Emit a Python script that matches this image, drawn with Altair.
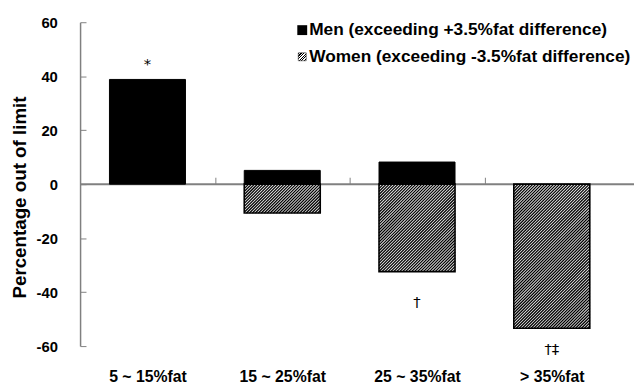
import json
import math
import altair as alt
import pandas as pd

categories = ["5 ~ 15%fat", "15 ~ 25%fat", "25 ~ 35%fat", "> 35%fat"]
men_values = [38.8, 5.1, 8.2, 0.0]
women_values = [0.0, -10.7, -32.4, -53.4]
sig_marks = ["*", "", "†", "†‡"]
sig_y = [44.5, 0.0, -43.5, -61.0]
legend_labels = ["Men (exceeding +3.5%fat difference)", "Women (exceeding -3.5%fat difference)"]
y_ticks = [-60, -40, -20, 0, 20, 40, 60]

W, H = 546, 328
Y_MIN, Y_MAX = -60, 60
X_MIN, X_MAX = -0.5, len(categories) - 0.5
HALF = 0.282                      # half bar width, in category units
FONT = "Liberation Sans, Arial, sans-serif"
AXIS_GRAY = "#808080"
HATCH_STEP = 3.0                  # px between hatch lines (horizontal)

px_x = W / (X_MAX - X_MIN)
px_y = H / (Y_MAX - Y_MIN)
idx = list(range(len(categories)))

df_men = pd.DataFrame({"i": idx, "value": men_values})
df_men = df_men[df_men["value"] != 0].copy()
df_women = pd.DataFrame({"i": idx, "value": women_values})
df_women = df_women[df_women["value"] != 0].copy()
for d in (df_men, df_women):
    d["lo"] = d["i"] - HALF
    d["hi"] = d["i"] + HALF
    d["zero"] = 0.0
df_sig = pd.DataFrame({"i": idx, "label": sig_marks, "y": sig_y})
df_sig = df_sig[df_sig["label"] != ""]


# hatch lines ("/" at 45 degrees on screen) derived from the women bars
def hatch_rows(df):
    rows = []
    for _, r in df.iterrows():
        X0, X1 = (r["lo"] - X_MIN) * px_x, (r["hi"] - X_MIN) * px_x
        ya, yb = (Y_MAX - max(r["value"], 0)) * px_y, (Y_MAX - min(r["value"], 0)) * px_y
        s = X0 + ya + HATCH_STEP / 2
        while s < X1 + yb:
            xs = max(X0, s - yb)
            xe = min(X1, s - ya)
            if xe > xs:
                rows.append({
                    "x": xs / px_x + X_MIN, "x2": xe / px_x + X_MIN,
                    "y": Y_MAX - (s - xs) / px_y, "y2": Y_MAX - (s - xe) / px_y,
                })
            s += HATCH_STEP
    return pd.DataFrame(rows)


df_hatch = hatch_rows(df_women)

xscale = alt.Scale(domain=[X_MIN, X_MAX], nice=False, zero=False)
yscale = alt.Scale(domain=[Y_MIN, Y_MAX], nice=False, zero=False)
label_expr = json.dumps(categories) + "[round(datum.value)]"


def Xq(field, axis=None):
    return alt.X(field, type="quantitative", scale=xscale, axis=axis, title=None)


def Yq(field, axis=None):
    return alt.Y(field, type="quantitative", scale=yscale, axis=axis, title=None)


zero_line = alt.Chart(pd.DataFrame({"v": [0]})).mark_rule(
    color=AXIS_GRAY, strokeWidth=2
).encode(y=Yq("v"), x=alt.value(0), x2=alt.value(W + 15))

men_bars = alt.Chart(df_men).mark_rect(fill="#000000", stroke="#000000", strokeWidth=1).encode(
    x=Xq("lo", alt.Axis(orient="bottom", values=idx, labelExpr=label_expr, domain=False,
                        ticks=False, labelFont=FONT, labelFontSize=16, labelFontWeight="bold",
                        labelColor="#000000", labelPadding=31, labelAngle=0,
                        labelBaseline="middle")),
    x2="hi", y=Yq("value"), y2="zero",
)

women_fill = alt.Chart(df_women).mark_rect(fill="#f2f2f2").encode(
    x=Xq("lo"), x2="hi", y=Yq("value"), y2="zero"
)
women_hatch = alt.Chart(df_hatch).mark_rule(color="#000000", strokeWidth=1.3).encode(
    x=Xq("x"), x2="x2", y=Yq("y"), y2="y2"
)
women_outline = alt.Chart(df_women).mark_rect(
    fillOpacity=0, stroke="#000000", strokeWidth=1.6
).encode(x=Xq("lo"), x2="hi", y=Yq("value"), y2="zero")

sig = alt.Chart(df_sig).mark_text(font="DejaVu Sans", fontSize=15, color="#000000",
                                  baseline="middle").encode(
    x=Xq("i"), y=Yq("y"), text="label:N"
)

df_ax = pd.DataFrame({"i": idx, "v": [0] * len(idx)})
zero_ticks = alt.Chart(df_ax).mark_point(opacity=0).encode(
    x=Xq("i", alt.Axis(orient="top", offset=-H / 2, values=[k + 0.5 for k in idx[:-1]],
                       labels=False, domain=False, ticks=True, tickSize=7,
                       tickColor=AXIS_GRAY, tickWidth=1)),
    y=Yq("v"),
)

y_inner_ticks = alt.Chart(df_ax).mark_point(opacity=0).encode(
    x=Xq("i"),
    y=Yq("v", alt.Axis(orient="right", offset=-W, values=y_ticks, labels=False, domain=False,
                       ticks=True, tickSize=6, tickColor=AXIS_GRAY, tickWidth=1)),
)

y_labels = alt.Chart(df_ax).mark_point(opacity=0).encode(
    x=Xq("i"),
    y=alt.Y("v:Q", scale=yscale, title="Percentage out of limit",
            axis=alt.Axis(orient="left", values=y_ticks, ticks=False, tickSize=0, domain=True,
                          domainColor=AXIS_GRAY, domainWidth=1.5, labelPadding=23,
                          labelExpr="'' + datum.value",
                          labelFont=FONT, labelFontSize=15, labelFontWeight="bold",
                          labelColor="#000000", titleFont=FONT, titleFontSize=19,
                          titleFontWeight="bold", titleColor="#000000", titlePadding=7,
                          titleY=177)),
)


def small_hatch(n=8, period=3.0 / math.sqrt(2)):
    k_max = math.ceil((2 * n / math.sqrt(2)) / period)
    stops = []
    for k in range(k_max):
        a, b, e = k / k_max, (k + 0.5) / k_max, (k + 1) / k_max
        stops += [{"offset": a, "color": "#ffffff"}, {"offset": a, "color": "#000000"},
                  {"offset": b, "color": "#000000"}, {"offset": b, "color": "#ffffff"},
                  {"offset": e, "color": "#ffffff"}]
    return {"gradient": "linear", "x1": 0, "y1": 0, "x2": 1, "y2": 1, "stops": stops}


df_leg = pd.DataFrame({"label": legend_labels})
leg_men_text = alt.Chart(df_leg.iloc[[0]]).mark_text(
    font=FONT, fontSize=17.5, fontWeight="bold", align="left", baseline="middle", color="#000000"
).encode(x=alt.value(232), y=alt.value(8), text="label:N")
leg_women_text = alt.Chart(df_leg.iloc[[1]]).mark_text(
    font=FONT, fontSize=17.5, fontWeight="bold", align="left", baseline="middle", color="#000000"
).encode(x=alt.value(232), y=alt.value(35), text="label:N")
leg_men = alt.Chart(df_leg.iloc[[0]]).mark_rect(fill="#000000").encode(
    x=alt.value(220), x2=alt.value(230), y=alt.value(3), y2=alt.value(13)
)
leg_women = alt.Chart(df_leg.iloc[[1]]).mark_rect(
    fill=small_hatch(), stroke="#000000", strokeWidth=0.5
).encode(x=alt.value(221), x2=alt.value(229), y=alt.value(31), y2=alt.value(39))

chart = alt.layer(
    zero_line, zero_ticks, y_inner_ticks, y_labels, men_bars,
    women_fill, women_hatch, women_outline, sig,
    leg_men, leg_women, leg_men_text, leg_women_text
).resolve_axis(x="independent", y="independent").properties(
    width=W, height=H,
    autosize=alt.AutoSizeParams(type="none"),
    padding={"left": 73, "top": 12, "right": 15, "bottom": 38},
).configure_view(stroke=None).configure_axis(grid=False)

chart.save("out.html", embed_options={"renderer": "svg", "actions": False})
